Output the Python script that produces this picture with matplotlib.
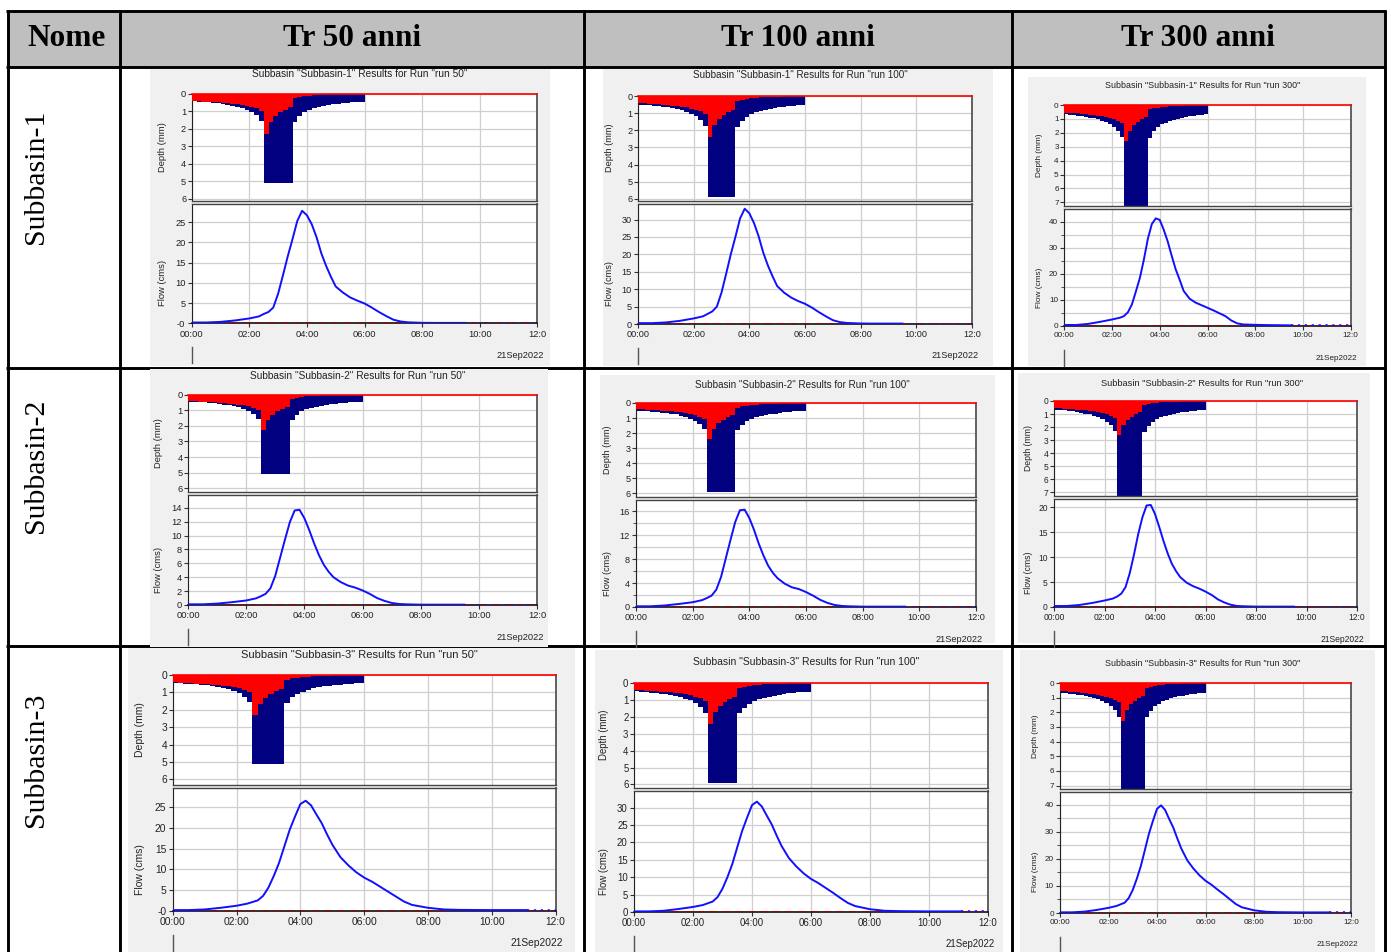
import matplotlib
matplotlib.use("Agg")
import matplotlib.pyplot as plt
from matplotlib.patches import Rectangle

plt.rcParams['font.family'] = ['Liberation Sans', 'DejaVu Sans']

W, H = 1391, 952

# ---- table text ----
col_titles = ["Nome", "Tr 50 anni", "Tr 100 anni", "Tr 300 anni"]
row_names = ["Subbasin-1", "Subbasin-2", "Subbasin-3"]
run_names = ["run 50", "run 100", "run 300"]
date_label = "21Sep2022"

# ---- hyetograph, 10 min bars (start minute) ----
bin_start = [0, 10, 20, 30, 40, 50, 60, 70, 80, 90, 100, 110, 120, 130, 140,
             150, 160, 170, 180, 190, 200, 210, 220, 230, 240, 250, 260, 270,
             280, 290, 300, 310, 320, 330, 340, 350]
depth_tr50 = [0.45, 0.47, 0.49, 0.51, 0.54, 0.57, 0.60, 0.64, 0.69, 0.75, 0.83, 0.93,
              1.06, 1.25, 1.55, 5.1, 5.1, 5.1, 5.1, 5.1, 5.1, 1.60, 1.28, 1.08,
              0.95, 0.85, 0.77, 0.71, 0.66, 0.62, 0.58, 0.55, 0.52, 0.50, 0.48, 0.46]
loss_tr50 = [0.42, 0.44, 0.46, 0.47, 0.49, 0.51, 0.53, 0.55, 0.58, 0.61, 0.65, 0.70,
             0.76, 0.85, 1.00, 2.30, 1.65, 1.30, 1.08, 0.92, 0.78, 0.28, 0.20, 0.15,
             0.12, 0.09, 0.07, 0.05, 0.04, 0.03, 0.02, 0.02, 0.01, 0, 0, 0]
depth_tr100 = [0.50, 0.52, 0.54, 0.57, 0.60, 0.63, 0.67, 0.71, 0.76, 0.83, 0.92, 1.03,
               1.18, 1.40, 1.75, 5.9, 5.9, 5.9, 5.9, 5.9, 5.9, 1.80, 1.45, 1.22,
               1.07, 0.96, 0.87, 0.80, 0.75, 0.70, 0.66, 0.62, 0.59, 0.56, 0.54, 0.52]
loss_tr100 = [0.41, 0.43, 0.45, 0.47, 0.49, 0.51, 0.53, 0.56, 0.59, 0.62, 0.67, 0.73,
              0.80, 0.90, 1.05, 2.40, 1.70, 1.35, 1.12, 0.95, 0.82, 0.30, 0.22, 0.17,
              0.13, 0.10, 0.08, 0.06, 0.05, 0.04, 0.03, 0.02, 0.01, 0, 0, 0]
depth_tr300 = [0.66, 0.69, 0.72, 0.76, 0.80, 0.85, 0.90, 0.96, 1.03, 1.12, 1.24, 1.39,
               1.58, 1.86, 2.30, 7.6, 7.6, 7.6, 7.6, 7.6, 7.6, 2.35, 1.90, 1.60,
               1.40, 1.26, 1.14, 1.05, 0.98, 0.92, 0.86, 0.81, 0.77, 0.74, 0.71, 0.68]
loss_tr300 = [0.55, 0.57, 0.59, 0.61, 0.63, 0.66, 0.69, 0.72, 0.76, 0.80, 0.86, 0.93,
              1.02, 1.14, 1.30, 2.60, 1.85, 1.45, 1.20, 1.02, 0.88, 0.32, 0.24, 0.18,
              0.14, 0.11, 0.09, 0.07, 0.05, 0.04, 0.03, 0.02, 0.01, 0, 0, 0]

# ---- outflow hydrographs (minutes from 00:00, m3/s) ----
t_sub12 = [0, 30, 60, 90, 120, 140, 150, 160, 170, 180, 190, 200, 210, 220, 230, 240,
           250, 260, 270, 280, 290, 300, 315, 330, 345, 360, 375, 390, 405, 420, 435,
           450, 480, 510, 540, 570]
t_sub3 = [0, 30, 60, 90, 120, 140, 160, 170, 180, 190, 200, 210, 220, 230, 240, 250,
          260, 270, 280, 290, 300, 315, 330, 345, 360, 375, 390, 405, 420, 435, 450,
          480, 510, 540, 600, 666]

q_s1_tr50 = [0.2, 0.2, 0.35, 0.7, 1.2, 1.7, 2.3, 2.8, 3.9, 7.3, 11.8, 16.5, 20.8, 25.3,
             27.8, 26.7, 24.5, 21.3, 17.3, 14.2, 11.5, 9.1, 7.6, 6.4, 5.6, 4.9, 3.9, 2.8,
             1.8, 0.9, 0.45, 0.25, 0.12, 0.1, 0.1, 0.1]
q_s1_tr100 = [0.25, 0.25, 0.45, 0.9, 1.6, 2.2, 2.9, 3.6, 5.0, 9.0, 14.4, 20.0, 25.0, 30.3,
              33.1, 31.8, 29.0, 25.2, 20.5, 16.8, 13.7, 10.9, 9.0, 7.6, 6.6, 5.8, 4.7,
              3.4, 2.2, 1.1, 0.55, 0.3, 0.15, 0.12, 0.12, 0.12]
q_s1_tr300 = [0.4, 0.4, 0.8, 1.6, 2.5, 3.2, 3.8, 5.3, 8.3, 13.3, 18.5, 25.5, 33.5, 39.2,
              41.4, 40.8, 37.0, 32.5, 27.0, 21.8, 17.8, 13.5, 10.5, 9.0, 8.0, 7.0, 6.0,
              4.9, 3.8, 2.1, 1.0, 0.6, 0.45, 0.35, 0.3, 0.25]
q_s2_tr50 = [0.1, 0.1, 0.2, 0.4, 0.65, 0.95, 1.25, 1.6, 2.4, 4.2, 6.8, 9.4, 11.9, 13.6,
             13.7, 12.5, 10.8, 8.9, 7.2, 5.8, 4.8, 4.0, 3.3, 2.8, 2.5, 2.1, 1.6, 1.0,
             0.6, 0.3, 0.15, 0.1, 0.05, 0.05, 0.05, 0.05]
q_s2_tr100 = [0.12, 0.12, 0.25, 0.5, 0.8, 1.15, 1.5, 1.9, 2.9, 5.0, 8.1, 11.2, 14.2, 16.2,
              16.3, 14.9, 12.9, 10.6, 8.6, 6.9, 5.7, 4.8, 3.9, 3.3, 3.0, 2.5, 1.9, 1.2,
              0.7, 0.35, 0.18, 0.12, 0.06, 0.06, 0.06, 0.06]
q_s2_tr300 = [0.2, 0.2, 0.4, 0.8, 1.3, 1.7, 2.1, 2.7, 4.0, 6.8, 10.5, 14.6, 18.0, 20.4,
              20.5, 18.7, 16.1, 13.3, 10.8, 8.7, 7.2, 6.0, 4.9, 4.2, 3.7, 3.1, 2.4, 1.5,
              0.9, 0.45, 0.2, 0.15, 0.08, 0.08, 0.08, 0.08]
q_s3_tr50 = [0.15, 0.15, 0.3, 0.7, 1.2, 1.7, 2.5, 3.6, 5.6, 8.4, 11.6, 15.6, 19.6, 22.8,
             25.8, 26.6, 25.5, 23.3, 21.2, 18.5, 16.0, 13.0, 11.0, 9.3, 8.0, 7.0, 5.8,
             4.6, 3.4, 2.2, 1.4, 0.7, 0.3, 0.2, 0.15, 0.15]
q_s3_tr100 = [0.18, 0.18, 0.35, 0.85, 1.45, 2.0, 3.0, 4.3, 6.7, 10.0, 13.8, 18.6, 23.3,
              27.1, 30.7, 31.7, 30.3, 27.7, 25.2, 22.0, 19.0, 15.5, 13.1, 11.1, 9.5, 8.3,
              6.9, 5.5, 4.0, 2.6, 1.7, 0.8, 0.35, 0.25, 0.18, 0.18]
q_s3_tr300 = [0.25, 0.25, 0.5, 1.1, 1.9, 2.6, 3.8, 5.5, 8.5, 12.6, 17.3, 23.2, 29.2, 34.0,
              38.4, 39.7, 38.0, 34.7, 31.6, 27.6, 23.8, 19.4, 16.4, 13.9, 11.9, 10.4, 8.6,
              6.9, 5.1, 3.3, 2.1, 1.0, 0.45, 0.3, 0.22, 0.22]

depths = [depth_tr50, depth_tr100, depth_tr300]
losses = [loss_tr50, loss_tr100, loss_tr300]
flows = [[q_s1_tr50, q_s1_tr100, q_s1_tr300],
         [q_s2_tr50, q_s2_tr100, q_s2_tr300],
         [q_s3_tr50, q_s3_tr100, q_s3_tr300]]
flow_times = [t_sub12, t_sub12, t_sub3]

# ---- layout of the 9 pasted charts (pixels) ----
# bg box, axes left/right, depth top/bottom, flow top/bottom, title centre, font size
panels = [
    [(150, 67, 550, 366), 191.7, 537.3, 93.5, 200.5, 203.5, 323.3, (360, 74), 7.3],
    [(603, 67, 993, 366), 638, 972, 96, 200.5, 203.5, 324, (800, 75), 7.1],
    [(1028, 77, 1366, 366), 1064.3, 1350.7, 105, 206, 209, 326, (1203, 86), 6.4],
    [(150, 369, 548, 647), 188, 537, 394.5, 491.5, 494.5, 605, (358, 376), 7.3],
    [(600, 375, 995, 643), 636, 976, 403, 496.5, 499.5, 607, (802, 385), 7.1],
    [(1018, 373, 1370, 643), 1054, 1357, 401, 495.5, 498.5, 607, (1202, 383), 6.7],
    [(128, 647, 575, 952), 172.7, 555.7, 675, 784.5, 787.5, 910.7, (359, 655), 8.0],
    [(595, 650, 1003, 952), 634, 988, 683, 787.5, 790.5, 912, (806, 662), 7.5],
    [(1020, 650, 1375, 952), 1060, 1351, 683, 788.5, 791.5, 913, (1203, 663), 6.4],
]
depth_max = [6.1, 6.1, 7.26, 6.2, 6.2, 7.25, 6.29, 6.18, 7.2]
flow_max = [29.6, 34.6, 45.0, 15.9, 18.0, 21.8, 29.8, 34.9, 44.8]
flow_ticks = [[0, 5, 10, 15, 20, 25], [0, 5, 10, 15, 20, 25, 30], [0, 10, 20, 30, 40],
              [0, 2, 4, 6, 8, 10, 12, 14], [0, 4, 8, 12, 16], [0, 5, 10, 15, 20],
              [0, 5, 10, 15, 20, 25], [0, 5, 10, 15, 20, 25, 30], [0, 10, 20, 30, 40]]
flow_minor = [[], [], [5, 15, 25, 35], [], [2, 6, 10, 14], [], [], [], [5, 15, 25, 35]]
zero_label = ["-0", "0", "0", "0", "0", "0", "-0", "0", "0"]


def fbox(x0, y0, x1, y1):
    return [x0 / W, 1 - y1 / H, (x1 - x0) / W, (y1 - y0) / H]


fig = plt.figure(figsize=(W / 100, H / 100), dpi=100)
ax0 = fig.add_axes([0, 0, 1, 1])
ax0.set_xlim(0, W)
ax0.set_ylim(H, 0)
ax0.axis('off')

# table
ax0.add_patch(Rectangle((7, 10), 1378, 57, fc='#bfbfbf', ec='none', zorder=0))
lw_tab = 2.1
for y in [10.5, 67, 367.5, 645.5]:
    ax0.plot([6, 1386], [y, y], color='black', lw=lw_tab, zorder=3, solid_capstyle='butt')
for x in [7.5, 120, 584, 1012, 1384.5]:
    ax0.plot([x, x], [9.5, H], color='black', lw=lw_tab, zorder=3, solid_capstyle='butt')

col_cx = [66, 352, 798, 1198]
for cx, txt in zip(col_cx, col_titles):
    ax0.text(cx, 39, txt, family=['Liberation Serif', 'DejaVu Serif'], weight='bold',
             size=22.5, ha='center', va='center', zorder=5)
for cy, txt in zip([177, 466, 760], row_names):
    ax0.text(36, cy, txt, family=['Liberation Serif', 'DejaVu Serif'], size=21.5,
             rotation=90, ha='center', va='center', zorder=5)

hours = ["00:00", "02:00", "04:00", "06:00", "08:00", "10:00", "12:0"]

for i, p in enumerate(panels):
    r, c = divmod(i, 3)
    (bx0, by0, bx1, by1), L, R, dt, db, ft, fb, (tx, ty), fs = p
    ax0.add_patch(Rectangle((bx0, by0), bx1 - bx0, by1 - by0, fc='#f0f0f0', ec='none',
                            zorder=4 if i == 3 else 1))
    title = 'Subbasin "%s" Results for Run "%s"' % (row_names[r], run_names[c])
    ax0.text(tx, ty, title, size=fs, ha='center', va='center', color='#222222', zorder=6)
    ax0.text(L - (R - L) * 0.085, (dt + db) / 2, "Depth (mm)", size=fs * 0.93, rotation=90,
             ha='center', va='center', color='#222222', zorder=6)
    ax0.text(L - (R - L) * 0.085, (ft + fb) / 2 + 20, "Flow (cms)", size=fs * 0.93,
             rotation=90, ha='center', va='center', color='#222222', zorder=6)
    ax0.text(R + 7, fb + 32, date_label, size=fs * 0.92, ha='right', va='center',
             color='#222222', zorder=6)
    ax0.plot([L, L], [fb + 24, fb + 40], color='#555555', lw=1, zorder=6)

    tsz = fs * 0.92
    # depth chart
    axd = fig.add_axes(fbox(L, dt, R, db))
    axd.bar(bin_start, depths[c], width=10, align='edge', color='#000080', lw=0, zorder=2)
    axd.bar(bin_start, losses[c], width=10, align='edge', color='#ff0000', lw=0, zorder=3)
    axd.set_xlim(0, 720)
    axd.set_ylim(depth_max[i], 0)
    axd.set_xticks([0, 120, 240, 360, 480, 600, 720])
    nd = 7 if c < 2 else 8
    axd.set_yticks(list(range(nd)))
    axd.set_yticklabels([str(k) for k in range(nd)])
    axd.grid(True, color='#cfcfcf', lw=0.9, zorder=0)
    axd.set_axisbelow(True)
    axd.tick_params(axis='x', length=0, labelbottom=False)
    axd.tick_params(axis='y', direction='out', length=3, width=0.8, colors='#333333',
                    labelsize=tsz, pad=1, labelcolor='#222222')
    axd.spines['left'].set_color('#222222')
    axd.spines['top'].set_color('#ff0000')
    axd.spines['top'].set_linewidth(1.2)
    axd.spines['right'].set_color('#555555')
    axd.spines['right'].set_linewidth(1.3)
    axd.spines['bottom'].set_color('#444444')
    axd.spines['bottom'].set_linewidth(1.0)

    # flow chart
    axf = fig.add_axes(fbox(L, ft, R, fb))
    tq = flow_times[r]
    q = flows[r][c]
    axf.axhline(0, color='#a00000', lw=1.3, ls=(0, (4, 3)), zorder=3)
    axf.plot(tq, q, color='#1010ff', lw=1.4, zorder=4)
    axf.plot([tq[-1], 720], [q[-1], q[-1]], color='#1010ff', lw=1.1, ls=(0, (1.5, 3)), zorder=4)
    axf.set_xlim(0, 720)
    axf.set_ylim(0, flow_max[i])
    axf.set_xticks([0, 120, 240, 360, 480, 600, 720])
    axf.set_xticklabels(hours)
    ft_ = flow_ticks[i]
    axf.set_yticks(ft_)
    axf.set_yticklabels([zero_label[i]] + [str(v) for v in ft_[1:]])
    if flow_minor[i]:
        axf.set_yticks(flow_minor[i], minor=True)
        axf.tick_params(axis='y', which='minor', length=2, color='#333333')
    axf.grid(True, which='both', color='#cfcfcf', lw=0.9, zorder=0)
    axf.grid(False, which='minor', axis='x')
    axf.set_axisbelow(True)
    axf.tick_params(axis='both', which='major', direction='out', length=3, width=0.8,
                    colors='#333333', labelsize=tsz, pad=1.5, labelcolor='#222222')
    axf.spines['left'].set_color('#222222')
    axf.spines['bottom'].set_color('#111111')
    axf.spines['bottom'].set_linewidth(1.2)
    axf.spines['right'].set_color('#555555')
    axf.spines['right'].set_linewidth(1.3)
    axf.spines['top'].set_color('#444444')
    axf.spines['top'].set_linewidth(1.0)

fig.savefig("out.png", dpi=100)
